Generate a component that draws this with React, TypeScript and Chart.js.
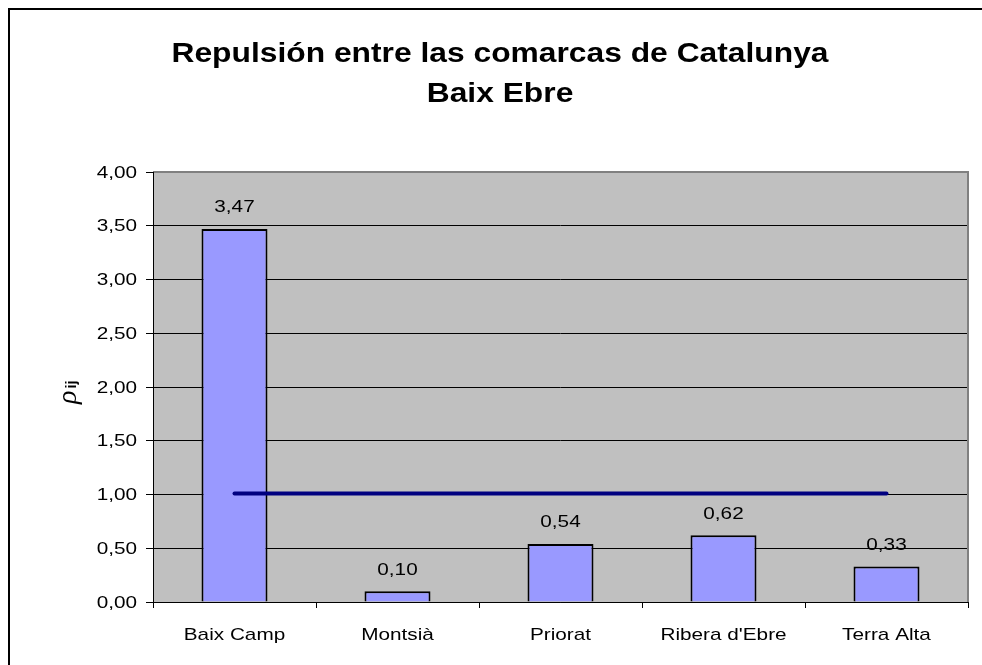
import React, { useEffect, useRef } from "react";
import { Chart, registerables } from "chart.js";

Chart.register(...registerables);

const categories = ["Baix Camp", "Montsià", "Priorat", "Ribera d'Ebre", "Terra Alta"];
const repulsion = [3.47, 0.1, 0.54, 0.62, 0.33];
const reference = [1.01, 1.01, 1.01, 1.01, 1.01];
const titleLines = ["Repulsión entre las comarcas de Catalunya", "Baix Ebre"];
const yTicks = [0, 0.5, 1, 1.5, 2, 2.5, 3, 3.5, 4];

const fmt = (v: number) => v.toFixed(2).replace(".", ",");

const FONT = "'Liberation Sans', Arial, sans-serif";
const SMALL = `17px ${FONT}`;
const STRETCH = 1.22;

function drawText(ctx: any, text: string, x: number, y: number, align: string, baseline: string, font: string, sx: number) {
  ctx.save();
  ctx.font = font;
  ctx.textAlign = align;
  ctx.textBaseline = baseline;
  ctx.fillStyle = "#000000";
  ctx.translate(x, y);
  ctx.scale(sx, 1);
  ctx.fillText(text, 0, 0);
  ctx.restore();
}

const decorPlugin = {
  id: "decor",
  beforeDraw(chart: any) {
    const { ctx, chartArea } = chart;
    ctx.save();
    ctx.fillStyle = "#ffffff";
    ctx.fillRect(0, 0, chart.width, chart.height);
    ctx.fillStyle = "#C0C0C0";
    ctx.fillRect(chartArea.left, chartArea.top, chartArea.right - chartArea.left, chartArea.bottom - chartArea.top);
    ctx.strokeStyle = "#000000";
    ctx.lineWidth = 2;
    ctx.strokeRect(9, 9, chart.width + 20, chart.height + 20);
    ctx.restore();
  },
  afterDraw(chart: any) {
    const { ctx, chartArea, scales } = chart;
    ctx.save();
    ctx.strokeStyle = "#808080";
    ctx.lineWidth = 2;
    ctx.beginPath();
    ctx.moveTo(chartArea.left, chartArea.top);
    ctx.lineTo(chartArea.right, chartArea.top);
    ctx.lineTo(chartArea.right, chartArea.bottom);
    ctx.stroke();
    ctx.strokeStyle = "#000000";
    ctx.lineWidth = 1;
    ctx.beginPath();
    ctx.moveTo(chartArea.left + 0.5, chartArea.top);
    ctx.lineTo(chartArea.left + 0.5, chartArea.bottom + 0.5);
    ctx.lineTo(chartArea.right, chartArea.bottom + 0.5);
    ctx.stroke();
    ctx.restore();

    // title
    const tFont = `bold 28px ${FONT}`;
    drawText(ctx, titleLines[0], 500, 62, "center", "alphabetic", tFont, 1.135);
    drawText(ctx, titleLines[1], 500, 102, "center", "alphabetic", tFont, 1.135);

    // y tick labels
    yTicks.forEach((v) => {
      const y = scales.y.getPixelForValue(v);
      drawText(ctx, fmt(v), 137, y + 1, "right", "middle", SMALL, STRETCH);
    });
    // x tick labels
    categories.forEach((c, i) => {
      const x = scales.x.getPixelForValue(i);
      drawText(ctx, c, x, 640, "center", "alphabetic", SMALL, STRETCH);
    });

    // y axis title rho_ij
    ctx.save();
    ctx.fillStyle = "#000000";
    ctx.translate(76, 404);
    ctx.rotate(-Math.PI / 2);
    ctx.textAlign = "left";
    ctx.textBaseline = "alphabetic";
    ctx.font = "italic 28px 'Liberation Serif', 'DejaVu Serif', serif";
    ctx.fillText("ρ", 0, 0);
    const w = ctx.measureText("ρ").width;
    ctx.font = `bold 15px ${FONT}`;
    ctx.fillText("ij", w + 2, 0);
    ctx.restore();
  },
  afterDatasetsDraw(chart: any) {
    const { ctx } = chart;
    const meta = chart.getDatasetMeta(0);
    meta.data.forEach((bar: any, i: number) => {
      drawText(ctx, fmt(repulsion[i]), bar.x, bar.y - 16.5, "center", "alphabetic", SMALL, STRETCH);
    });
  },
};

export default function App() {
  const ref = useRef<HTMLCanvasElement>(null);
  useEffect(() => {
    document.body.style.margin = "0";
    const chart = new Chart(ref.current as HTMLCanvasElement, {
      type: "bar",
      data: {
        labels: categories,
        datasets: [
          {
            type: "bar",
            data: repulsion,
            backgroundColor: "#9999FF",
            borderColor: "#000000",
            borderWidth: 2,
            barPercentage: 0.405,
            categoryPercentage: 1,
            order: 1,
          } as any,
          {
            type: "line",
            data: reference,
            borderColor: "#000080",
            borderWidth: 4,
            borderCapStyle: "round",
            pointRadius: 0,
            fill: false,
            order: 0,
          } as any,
        ],
      },
      options: {
        responsive: false,
        animation: false,
        events: [],
        layout: { padding: { left: 0, top: 172, right: 14, bottom: 0 } },
        plugins: { legend: { display: false }, tooltip: { enabled: false }, title: { display: false } },
        scales: {
          x: {
            offset: true,
            grid: { drawOnChartArea: false, drawTicks: true, tickLength: 6, color: "#000000", offset: true },
            border: { display: false },
            ticks: { color: "rgba(0,0,0,0)", font: { family: FONT, size: 16 }, padding: 17, maxRotation: 0, autoSkip: false },
            afterFit: (s: any) => { s.height = 63; },
          },
          y: {
            min: 0,
            max: 4,
            afterBuildTicks: (s: any) => { s.ticks = yTicks.map((v) => ({ value: v })); },
            grid: { color: "#000000", lineWidth: 1, tickLength: 7, drawTicks: true },
            border: { display: false },
            ticks: {
              color: "rgba(0,0,0,0)",
              font: { family: FONT, size: 16 },
              padding: 9,
              callback: (v: any) => fmt(Number(v)),
            },
            afterFit: (s: any) => { s.width = 153; },
          },
        },
      },
      plugins: [decorPlugin],
    });
    return () => chart.destroy();
  }, []);
  return <canvas ref={ref} width={982} height={665} style={{ display: "block" }} />;
}
